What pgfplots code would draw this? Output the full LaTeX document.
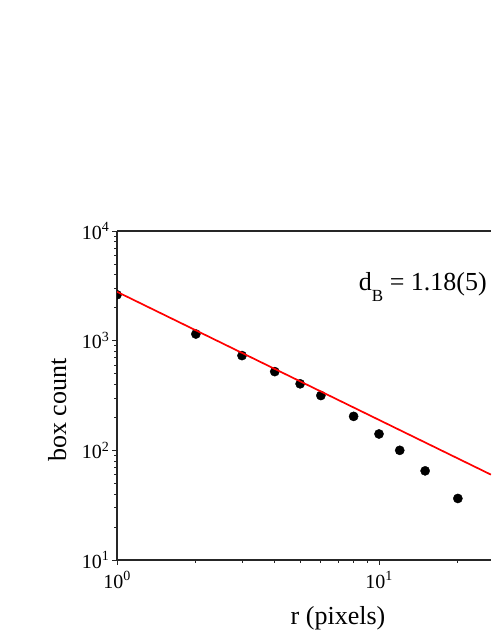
\documentclass[border=0pt]{standalone}
\usepackage{fontspec}
\setmainfont{Liberation Serif}
\usepackage{pgfplots}
\pgfplotsset{compat=1.18}

\begin{document}
\begin{tikzpicture}[x=1pt,y=1pt]
\useasboundingbox (0,0) rectangle (491,635);
\begin{axis}[
 at={(117pt,75pt)}, anchor=south west,
 width=374pt, height=329pt, scale only axis,
 xmode=log, ymode=log,
 xmin=1, xmax=26.76, ymin=10, ymax=10000,
 axis x line*=box, axis y line*=left,
 axis line style={-, line width=1.2pt, black!85},
 tick pos=left, tick align=outside,
 major tick length=5pt, minor tick length=3pt,
 tick style={black!85, line width=0.9pt},
 xtick={1,10}, xticklabels={10\textsuperscript{0},10\textsuperscript{1}},
 ytick={10,100,1000,10000},
 yticklabels={10\textsuperscript{1},10\textsuperscript{2},10\textsuperscript{3},10\textsuperscript{4}},
 minor xtick={2,3,4,5,6,7,8,9,20},
 minor ytick={20,30,40,50,60,70,80,90,200,300,400,500,600,700,800,900,2000,3000,4000,5000,6000,7000,8000,9000},
 tick label style={font=\fontsize{20}{22}\selectfont},
 yticklabel style={xshift=1pt},
 xticklabel style={yshift=-3pt},
 clip marker paths=true,
]
\addplot[only marks, mark=*, mark size=4.6pt, black] coordinates {
 (1,2620) (2,1150) (3,731) (4,522) (5,404) (6,316) (8,204) (10,141) (12,100) (15,65) (20,36.4)
};
\addplot[red, line width=1.7pt] coordinates {(1,2790) (26.76,60)};
\end{axis}
\node[anchor=base east, inner sep=0pt, font=\fontsize{26}{28}\selectfont] at (487,344)
 {d\raisebox{-10.5pt}{\fontsize{17}{18}\selectfont B} = 1.18(5)};
\node[anchor=base, inner sep=0pt, font=\fontsize{26}{28}\selectfont] at (338,10) {r (pixels)};
\node[anchor=base, inner sep=0pt, rotate=90, font=\fontsize{26}{28}\selectfont] at (66,225) {box count};
\end{tikzpicture}
\end{document}
